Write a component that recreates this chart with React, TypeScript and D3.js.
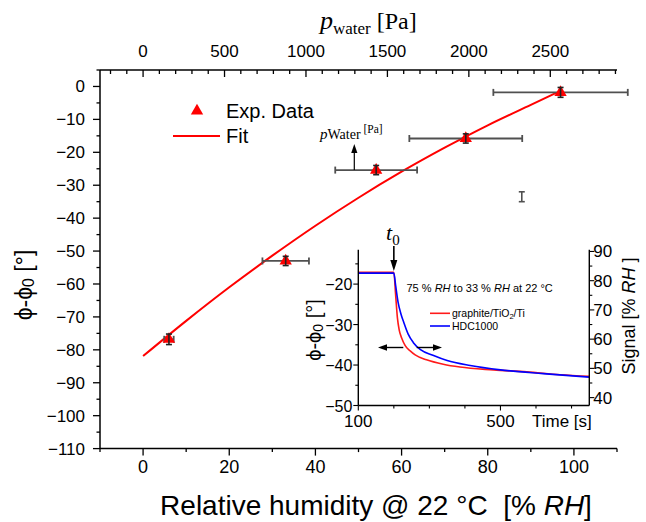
import React from "react";
import * as d3 from "d3";

// ---------- data ----------
const PSAT_22C = 2645; // Pa, saturation vapour pressure at 22 °C (top axis conversion)
const rhTicks = [0, 20, 40, 60, 80, 100];
const phiTicks = [0, -10, -20, -30, -40, -50, -60, -70, -80, -90, -100, -110];
const paTicks = [0, 500, 1000, 1500, 2000, 2500];

const expRH = [6.0, 33.1, 54.1, 74.9, 96.9];
const expPhi = [-76.8, -53.0, -25.4, -15.8, -1.8];
const expPhiErr = [1.6, 1.4, 1.4, 1.4, 1.5];
const expRHErr = [1.1, 5.4, 9.5, 13.1, 15.6];
const strayRH = [87.9];
const strayPhi = [-33.5];
const strayErr = [1.5];

const fitRH = [0, 10, 20, 30, 40, 50, 60, 70, 80, 90, 96];
const fitPhi = [-81.9, -71.2, -61.0, -51.4, -42.3, -33.8, -25.9, -18.6, -11.8, -5.6, -1.9];

const insetTimeTicks = [100, 500];
const insetLeftTicks = [-20, -30, -40, -50];
const insetRightTicks = [40, 50, 60, 70, 80, 90];

const graphiteT = [100, 200, 205, 210, 215, 222, 232, 246, 260, 292, 339, 386, 480, 574, 668, 750];
const graphitePhi = [-17.1, -17.1, -22.6, -28.3, -31.3, -33.3, -35.2, -36.5, -37.5, -38.7, -39.8, -40.5, -41.2, -41.7, -42.4, -42.8];
const hdcT = [100, 200, 205, 212, 220, 228, 240, 255, 275, 310, 350, 415, 500, 620, 750];
const hdcRH = [82.6, 82.6, 78.4, 72.6, 68.6, 65.7, 61.8, 58.8, 56.4, 54.5, 52.7, 51.0, 49.5, 48.2, 47.0];

const SANS = "'Liberation Sans', Arial, sans-serif";
const SERIF = "'Liberation Serif', 'Times New Roman', serif";

const fmtNeg = (v: number) => (v < 0 ? "\u2212" + Math.abs(v) : String(v));

export default function App() {
  // main scales
  const x = d3.scaleLinear().domain([-10, 110]).range([100, 617]);
  const y = d3.scaleLinear().domain([-110, 5]).range([448.6, 70]);
  const xTop = d3
    .scaleLinear()
    .domain([(-10 * PSAT_22C) / 100, (110 * PSAT_22C) / 100])
    .range([100, 617]);

  // inset scales
  const xi = d3.scaleLinear().domain([100, 750]).range([358.3, 589.3]);
  const yiL = d3.scaleLinear().domain([-50, -11.5]).range([405.5, 249.7]);
  const yiR = d3.scaleLinear().domain([37.3, 90.6]).range([405.5, 249.7]);

  const [x0, x1] = x.range();
  const [yb, yt] = y.range();
  const [xi0, xi1] = xi.range();
  const [yib, yit] = yiL.range();

  const fitLine = d3
    .line<number>()
    .x((d) => x(fitRH[d]))
    .y((d) => y(fitPhi[d]))
    .curve(d3.curveMonotoneX)(fitRH.map((_, i) => i));

  const redLine = d3
    .line<number>()
    .x((d) => xi(graphiteT[d]))
    .y((d) => yiL(graphitePhi[d]))
    .curve(d3.curveMonotoneX)(graphiteT.map((_, i) => i));
  const blueLine = d3
    .line<number>()
    .x((d) => xi(hdcT[d]))
    .y((d) => yiR(hdcRH[d]))
    .curve(d3.curveMonotoneX)(hdcT.map((_, i) => i));

  const tri = d3.symbol(d3.symbolTriangle, 66)() as string;

  const leftMinor = d3.range(-110, 5.01, 5);
  const bottomMinor = d3.range(-10, 110.01, 10);
  const topMinor = d3.range(-200, 2901, 100);
  const insetXMinor = d3.range(100, 750.1, 100);
  const insetLMinor = d3.range(-50, -11.5, 5);
  const insetRMinor = d3.range(40, 90.1, 5);

  const ax = { stroke: "#000", strokeWidth: 1.5, fill: "none" } as const;
  const tk = { stroke: "#000", strokeWidth: 1.3 } as const;

  return (
    <svg
      width={646}
      height={522}
      viewBox="0 0 646 522"
      style={{ position: "absolute", left: 0, top: 0, background: "#fff" }}
    >
      <rect x={0} y={0} width={646} height={522} fill="#fff" />

      {/* ===== main axes ===== */}
      <line x1={x0} x2={x0} y1={yt} y2={yb} {...ax} />
      <line x1={x0} x2={x1} y1={yb} y2={yb} {...ax} />
      <line x1={x0} x2={x1} y1={yt} y2={yt} {...ax} />

      {/* left ticks */}
      {leftMinor.map((v) => {
        const major = Math.abs(v % 10) < 1e-6;
        return (
          <line key={"lm" + v} x1={x0} x2={x0 - (major ? 7 : 3.5)} y1={y(v)} y2={y(v)} {...tk} />
        );
      })}
      {phiTicks.map((v) => (
        <text key={"lt" + v} x={x0 - 15} y={y(v) + 6} textAnchor="end" fontFamily={SANS} fontSize={17}>
          {fmtNeg(v)}
        </text>
      ))}

      {/* bottom ticks */}
      {bottomMinor.map((v) => {
        const major = Math.abs(v % 20) < 1e-6;
        return (
          <line key={"bm" + v} x1={x(v)} x2={x(v)} y1={yb} y2={yb + (major ? 7 : 3.5)} {...tk} />
        );
      })}
      {rhTicks.map((v) => (
        <text key={"bt" + v} x={x(v)} y={yb + 24} textAnchor="middle" fontFamily={SANS} fontSize={18}>
          {v}
        </text>
      ))}

      {/* top ticks (pressure) */}
      {topMinor.map((v) => {
        const major = Math.abs(v % 500) < 1e-6;
        return (
          <line key={"tm" + v} x1={xTop(v)} x2={xTop(v)} y1={yt} y2={yt + (major ? 7 : 4)} {...tk} />
        );
      })}
      {paTicks.map((v) => (
        <text key={"tt" + v} x={xTop(v)} y={yt - 13} textAnchor="middle" fontFamily={SANS} fontSize={17}>
          {v}
        </text>
      ))}

      {/* axis titles */}
      <text x={320} y={29} fontFamily={SERIF} fontSize={26}>
        <tspan fontStyle="italic">p</tspan>
        <tspan fontSize={17} dy={5}>water</tspan>
        <tspan fontSize={24} dy={-5}> [Pa]</tspan>
      </text>
      <text x={376} y={515} textAnchor="middle" fontFamily={SANS} fontSize={28}>
        Relative humidity @ 22 °C{"\u00a0\u00a0"}[% <tspan fontStyle="italic">RH</tspan>]
      </text>
      <text
        transform={`translate(24, ${285}) rotate(-90)`}
        textAnchor="middle"
        dominantBaseline="central"
        fontFamily={SANS}
        fontSize={23}
      >
        ϕ-ϕ<tspan fontSize={16} dy={4}>0</tspan>
        <tspan dy={-4}> [°]</tspan>
      </text>

      {/* ===== fit ===== */}
      <path d={fitLine || ""} fill="none" stroke="#ff0000" strokeWidth={2} />

      {/* horizontal error bars (gray) */}
      {expRH.map((v, i) => {
        const xa = x(v - expRHErr[i]);
        const xb = x(v + expRHErr[i]);
        const yy = y(expPhi[i]);
        return (
          <g key={"he" + i} stroke="#505050" strokeWidth={1.8}>
            <line x1={xa} x2={xb} y1={yy} y2={yy} />
            <line x1={xa} x2={xa} y1={yy - 3.5} y2={yy + 3.5} />
            <line x1={xb} x2={xb} y1={yy - 3.5} y2={yy + 3.5} />
          </g>
        );
      })}

      {/* triangles */}
      {expRH.map((v, i) => (
        <path key={"tr" + i} d={tri} transform={`translate(${x(v)},${y(expPhi[i])})`} fill="#ff0000" />
      ))}

      {/* vertical error bars */}
      {expRH.map((v, i) => {
        const xx = x(v);
        const ya = y(expPhi[i] - expPhiErr[i]);
        const yb2 = y(expPhi[i] + expPhiErr[i]);
        return (
          <g key={"ve" + i} stroke="#222" strokeWidth={1.6}>
            <line x1={xx} x2={xx} y1={ya} y2={yb2} />
            <line x1={xx - 3} x2={xx + 3} y1={ya} y2={ya} />
            <line x1={xx - 3} x2={xx + 3} y1={yb2} y2={yb2} />
          </g>
        );
      })}
      {strayRH.map((v, i) => {
        const xx = x(v);
        const ya = y(strayPhi[i] - strayErr[i]);
        const yb2 = y(strayPhi[i] + strayErr[i]);
        return (
          <g key={"se" + i} stroke="#505050" strokeWidth={1.6}>
            <line x1={xx} x2={xx} y1={ya} y2={yb2} />
            <line x1={xx - 3} x2={xx + 3} y1={ya} y2={ya} />
            <line x1={xx - 3} x2={xx + 3} y1={yb2} y2={yb2} />
          </g>
        );
      })}

      {/* p_Water annotation arrow */}
      <line x1={354.3} x2={354.3} y1={y(expPhi[2])} y2={152} stroke="#000" strokeWidth={1.2} />
      <path d="M354.3,144 L351.2,153 L357.4,153 Z" fill="#000" />
      <text x={320} y={139} fontFamily={SERIF} fontSize={15}>
        <tspan fontStyle="italic">p</tspan>
        <tspan fontSize={14}>Water</tspan>
        <tspan fontSize={11.5} dy={-6}> [Pa]</tspan>
      </text>

      {/* legend */}
      <path d={tri} transform="translate(197,111)" fill="#ff0000" />
      <text x={226} y={118} fontFamily={SANS} fontSize={20}>
        Exp. Data
      </text>
      <line x1={173} x2={220} y1={136} y2={136} stroke="#ff0000" strokeWidth={2} />
      <text x={226} y={143} fontFamily={SANS} fontSize={20}>
        Fit
      </text>

      {/* ===== inset ===== */}
      <path d={redLine || ""} fill="none" stroke="#ff1a1a" strokeWidth={1.6} />
      <path d={blueLine || ""} fill="none" stroke="#0000ff" strokeWidth={1.6} />

      <line x1={xi0} x2={xi0} y1={yit} y2={yib} {...ax} strokeWidth={1.4} />
      <line x1={xi1} x2={xi1} y1={yit} y2={yib} {...ax} strokeWidth={1.4} />
      <line x1={xi0} x2={xi1} y1={yib} y2={yib} {...ax} strokeWidth={1.4} />

      {insetXMinor.map((v) => (
        <line key={"ixm" + v} x1={xi(v)} x2={xi(v)} y1={yib} y2={yib + (v === 100 || v === 500 ? 5 : 3)} {...tk} strokeWidth={1.1} />
      ))}
      {insetTimeTicks.map((v) => (
        <text key={"ixt" + v} x={xi(v)} y={yib + 21} textAnchor="middle" fontFamily={SANS} fontSize={17}>
          {v}
        </text>
      ))}
      <text x={532} y={yib + 21} fontFamily={SANS} fontSize={17}>
        Time [s]
      </text>

      {insetLMinor.map((v) => (
        <line key={"ilm" + v} x1={xi0} x2={xi0 - (v % 10 === 0 ? 5 : 3)} y1={yiL(v)} y2={yiL(v)} {...tk} strokeWidth={1.1} />
      ))}
      {insetLeftTicks.map((v) => (
        <text key={"ilt" + v} x={xi0 - 6} y={yiL(v) + 6} textAnchor="end" fontFamily={SANS} fontSize={16}>
          {fmtNeg(v)}
        </text>
      ))}
      {insetRMinor.map((v) => (
        <line key={"irm" + v} x1={xi1} x2={xi1 + (v % 10 === 0 ? 5 : 3)} y1={yiR(v)} y2={yiR(v)} {...tk} strokeWidth={1.1} />
      ))}
      {insetRightTicks.map((v) => (
        <text key={"irt" + v} x={xi1 + 4} y={yiR(v) + 6} fontFamily={SANS} fontSize={17}>
          {v}
        </text>
      ))}
      <text
        transform={`translate(${314}, ${330}) rotate(-90)`}
        textAnchor="middle"
        dominantBaseline="central"
        fontFamily={SANS}
        fontSize={20}
      >
        ϕ-ϕ<tspan fontSize={14} dy={4}>0</tspan>
        <tspan dy={-4}> [°]</tspan>
      </text>
      <text
        transform={`translate(${635}, ${316}) rotate(-90)`}
        textAnchor="middle"
        fontFamily={SANS}
        fontSize={18}
      >
        Signal [% <tspan fontStyle="italic">RH</tspan>{"\u00a0"}]
      </text>

      {/* t0 arrow */}
      <text x={386} y={240} fontFamily={SERIF} fontSize={22} fontStyle="italic">
        t<tspan fontStyle="normal" fontSize={15} dy={5}>0</tspan>
      </text>
      <line x1={xi(200)} x2={xi(200)} y1={246} y2={262} stroke="#000" strokeWidth={1.6} />
      <path d={`M${xi(200)},${271} L${xi(200) - 3.5},${260} L${xi(200) + 3.5},${260} Z`} fill="#000" />

      <text x={406.5} y={292} fontFamily={SANS} fontSize={11}>
        75 % <tspan fontStyle="italic">RH</tspan> to 33 % <tspan fontStyle="italic">RH</tspan> at 22 °C
      </text>

      {/* inset legend */}
      <line x1={430} x2={450} y1={313.3} y2={313.3} stroke="#ff1a1a" strokeWidth={1.6} />
      <text x={452} y={317} fontFamily={SANS} fontSize={10.5}>
        graphite/TiO<tspan fontSize={7.5} dy={2}>2</tspan>
        <tspan dy={-2}>/Ti</tspan>
      </text>
      <line x1={430} x2={450} y1={326} y2={326} stroke="#0000ff" strokeWidth={1.6} />
      <text x={452} y={330} fontFamily={SANS} fontSize={10.5}>
        HDC1000
      </text>

      {/* horizontal arrows */}
      <line x1={384} x2={403.3} y1={347.5} y2={347.5} stroke="#000" strokeWidth={1.4} />
      <path d="M378,347.5 L387,344.3 L387,350.7 Z" fill="#000" />
      <line x1={416.7} x2={436} y1={347.5} y2={347.5} stroke="#000" strokeWidth={1.4} />
      <path d="M442,347.5 L433,344.3 L433,350.7 Z" fill="#000" />
    </svg>
  );
}
